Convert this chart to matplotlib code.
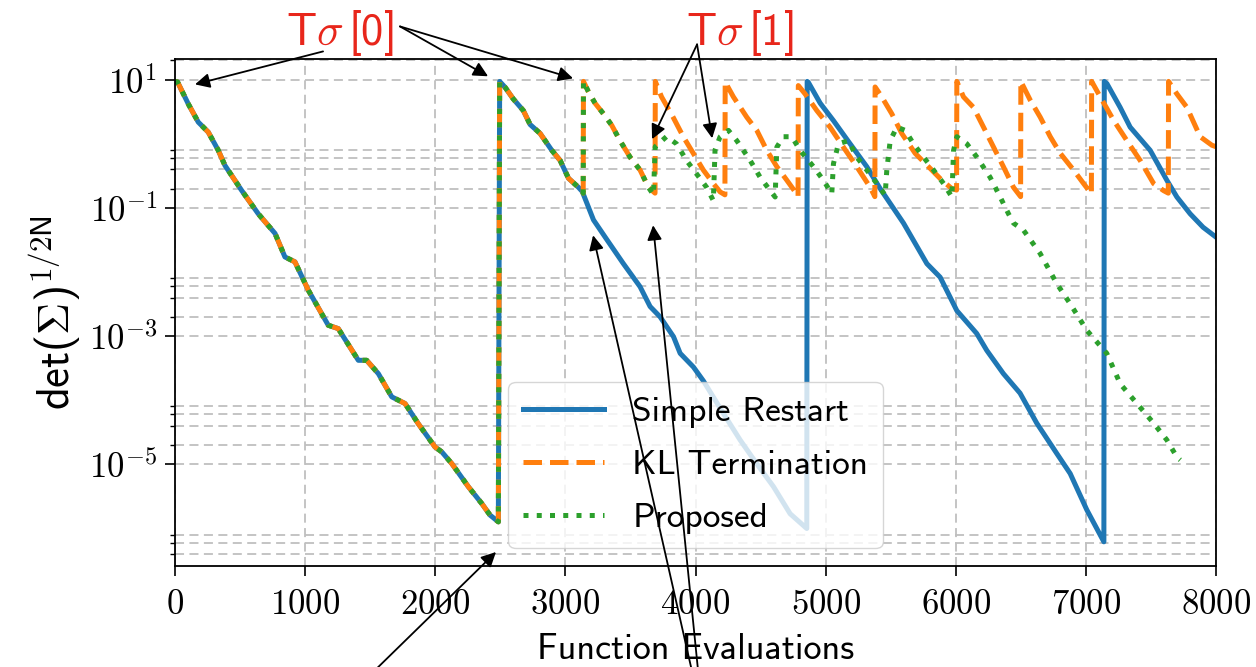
import matplotlib
matplotlib.use('Agg')
import matplotlib.pyplot as plt
from matplotlib.ticker import FixedLocator, FixedFormatter, NullFormatter

plt.rcParams['mathtext.fontset'] = 'cm'

# first run, identical for all three strategies
run0_x = [0, 20, 102, 179, 256, 333, 384, 512, 640, 769, 845, 922, 1025, 1178, 1255,
          1409, 1473, 1563, 1666, 1768, 1870, 1998, 2050, 2127, 2254, 2357, 2421, 2485]
run0_y = [9.4, 9.2, 4.2, 2.18, 1.52, 0.79, 0.46, 0.188, 0.081, 0.040, 0.0172, 0.0144,
          5.2e-3, 1.48e-3, 1.31e-3, 4.2e-4, 4.2e-4, 2.6e-4, 1.13e-4, 8.9e-5, 4.3e-5,
          1.87e-5, 1.57e-5, 1.03e-5, 4.5e-6, 2.46e-6, 1.62e-6, 1.27e-6]

# second run (after first restart), shared up to ~3130
run1_x = [2495, 2537, 2600, 2677, 2729, 2806, 2896, 2960, 3024, 3100, 3130]
run1_y = [9.4, 7.6, 5.0, 3.3, 2.0, 1.45, 0.79, 0.55, 0.29, 0.21, 0.18]

# simple restart: continues the second run, then restarts twice more
simple_tail_x = [3216, 3319, 3446, 3574, 3651, 3728, 3831, 3882, 3984, 4061, 4215, 4343,
                 4471, 4599, 4727, 4855,
                 4858, 4867, 4958, 5060, 5188, 5316, 5419, 5598, 5778, 5880, 6008, 6161,
                 6238, 6366, 6494, 6622, 6776, 6879, 7007, 7138,
                 7141, 7161, 7263, 7340, 7494, 7622, 7699, 7801, 7900, 8000]
simple_tail_y = [0.065, 0.032, 0.0135, 5.9e-3, 2.9e-3, 2.0e-3, 9.8e-4, 5.4e-4, 3.3e-4,
                 2.0e-4, 6.2e-5, 2.4e-5, 1.02e-5, 4.5e-6, 1.7e-6, 1.0e-6,
                 9.4, 9.1, 4.3, 2.3, 1.0, 0.44, 0.20, 0.058, 0.0135, 8.3e-3, 2.5e-3,
                 1.1e-3, 6.0e-4, 2.6e-4, 1.29e-4, 4.4e-5, 1.48e-5, 7.2e-6, 1.95e-6, 6.2e-7,
                 9.4, 8.7, 3.7, 1.82, 0.79, 0.27, 0.148, 0.081, 0.050, 0.035]

# restart at ~3140, shared by KL termination and proposed until ~3680
run2_x = [3137, 3139, 3177, 3228, 3292, 3356, 3420, 3497, 3574, 3638]
run2_y = [0.17, 9.4, 6.5, 4.3, 2.95, 1.95, 1.12, 0.62, 0.39, 0.21]

kl_tail_x = [3689, 3691, 3739, 3828, 3906, 3983, 4060, 4137, 4189, 4226,
             4228, 4291, 4394, 4471, 4548, 4625, 4702, 4766, 4788,
             4790, 4842, 4932, 5034, 5136, 5239, 5342, 5378,
             5380, 5431, 5508, 5585, 5688, 5790, 5893, 5970, 6006,
             6008, 6059, 6136, 6213, 6290, 6366, 6443, 6498,
             6500, 6572, 6649, 6726, 6803, 6905, 6982, 7042,
             7044, 7110, 7212, 7315, 7417, 7520, 7597, 7633,
             7635, 7699, 7776, 7878, 7968, 8000]
kl_tail_y = [0.17, 9.4, 5.4, 2.6, 1.29, 0.71, 0.39, 0.24, 0.178, 0.16,
             9.2, 5.4, 2.6, 1.62, 0.79, 0.44, 0.27, 0.178, 0.15,
             8.1, 6.0, 3.3, 1.82, 0.89, 0.44, 0.21, 0.15,
             7.7, 5.4, 2.95, 1.45, 0.71, 0.44, 0.27, 0.20, 0.19,
             9.4, 5.4, 3.7, 1.82, 0.89, 0.44, 0.21, 0.15,
             9.4, 4.8, 2.6, 1.29, 0.71, 0.39, 0.24, 0.166,
             9.4, 5.4, 2.34, 1.12, 0.55, 0.24, 0.186, 0.17,
             9.4, 6.0, 3.7, 1.29, 0.95, 0.90]

proposed_tail_x = [3677, 3690, 3778, 3854, 3931, 4008, 4085, 4137, 4150, 4189, 4253, 4317,
                   4420, 4497, 4574, 4612, 4625, 4676, 4740, 4804, 4906, 4983, 5047, 5060,
                   5098, 5175, 5239, 5316, 5393, 5457, 5470, 5496, 5547, 5611, 5675, 5752,
                   5829, 5906, 5970, 5983, 6008, 6085, 6162, 6264, 6341, 6405, 6443, 6520,
                   6648, 6776, 6879, 7007, 7160, 7264, 7392, 7520, 7622, 7699, 7725]
proposed_tail_y = [0.16, 0.9, 1.3, 1.0, 0.55, 0.34, 0.21, 0.13, 0.8, 1.29, 1.62, 1.12,
                   0.55, 0.30, 0.186, 0.148, 0.89, 1.29, 1.29, 0.79, 0.44, 0.27, 0.166, 0.49,
                   1.0, 1.12, 0.62, 0.39, 0.24, 0.158, 0.39, 1.12, 1.82, 1.62, 1.0, 0.62,
                   0.39, 0.24, 0.148, 0.79, 1.29, 1.0, 0.62, 0.30, 0.148, 0.081, 0.058, 0.045,
                   0.0195, 6.6e-3, 3.2e-3, 1.23e-3, 5.4e-4, 1.8e-4, 8.9e-5, 4.4e-5, 2.4e-5,
                   1.3e-5, 1.17e-5]

simple_x = run0_x + run1_x + simple_tail_x
simple_y = run0_y + run1_y + simple_tail_y
kl_x = run0_x + run1_x + run2_x + kl_tail_x
kl_y = run0_y + run1_y + run2_y + kl_tail_y
proposed_x = run0_x + run1_x + run2_x + proposed_tail_x
proposed_y = run0_y + run1_y + run2_y + proposed_tail_y

x_ticks = [0, 1000, 2000, 3000, 4000, 5000, 6000, 7000, 8000]
x_tick_labels = ['$0$', '$1000$', '$2000$', '$3000$', '$4000$', '$5000$', '$6000$', '$7000$', '$8000$']
y_ticks = [1e-5, 1e-3, 1e-1, 1e1]
y_tick_labels = [r'$10^{-5}$', r'$10^{-3}$', r'$10^{-1}$', r'$10^{1}$']

fig = plt.figure(figsize=(12.56, 6.67), dpi=100)
ax = fig.add_axes([0.1393, 0.1514, 0.8289, 0.7601])

ax.plot(simple_x, simple_y, color='#1f77b4', lw=3.6, label='Simple Restart')
ax.plot(kl_x, kl_y, color='#ff7f0e', lw=3.6, ls='--', label='KL Termination')
ax.plot(proposed_x, proposed_y, color='#2ca02c', lw=3.6, ls=':', label='Proposed')

ax.set_yscale('log')
ax.set_xlim(0, 8000)
ax.set_ylim(2.6e-7, 21)

ax.xaxis.set_major_locator(FixedLocator(x_ticks))
ax.xaxis.set_major_formatter(FixedFormatter(x_tick_labels))
ax.yaxis.set_major_locator(FixedLocator(y_ticks))
ax.yaxis.set_major_formatter(FixedFormatter(y_tick_labels))
minor = [m * 10.0 ** e for e in (-7, -5, -3, -1, 1) for m in (2, 4, 6, 8)]
ax.yaxis.set_minor_locator(FixedLocator(minor))
ax.yaxis.set_minor_formatter(NullFormatter())

ax.tick_params(which='major', labelsize=25, length=7, width=1.2, pad=6)
ax.tick_params(axis='x', which='major', pad=8)
ax.tick_params(which='minor', length=3.5, width=1.0)
for sp in ax.spines.values():
    sp.set_linewidth(1.3)

ax.grid(True, which='both', color='#bfbfbf', lw=1.3, ls=(0, (5, 3)))

ax.set_xlabel('Function Evaluations', family='cmss10', fontsize=26, labelpad=9)
ax.set_ylabel(r'det($\Sigma$)$^{\mathsf{1/2N}}$', family='cmss10', fontsize=32, labelpad=4)

ax.legend(loc='lower center', prop={'family': 'cmss10', 'size': 25.5},
          handlelength=2.3, labelspacing=0.6)

red = '#e8261b'
ax.text(1268, 54, r'T$\sigma\,$[0]', family='cmss10', color=red, fontsize=32,
        ha='center', va='center')
ax.text(4343, 54, r'T$\sigma\,$[1]', family='cmss10', color=red, fontsize=32,
        ha='center', va='center')

arrow_kw = dict(arrowstyle='-|>', color='black', lw=1.3, mutation_scale=22,
                shrinkA=0, shrinkB=0)
arrows = [
    ((1138, 27.6), (154, 8.45)),
    ((1729, 67.7), (2406, 11.3)),
    ((1729, 67.7), (3059, 10.5)),
    ((4012, 35.5), (3666, 1.18)),
    ((4012, 35.5), (4128, 1.22)),
    ((1145, 1.03e-9), (2467, 4.3e-7)),
    ((4058, 1.03e-9), (3213, 0.0374)),
    ((4058, 1.03e-9), (3674, 0.0536)),
]
for start, end in arrows:
    ax.annotate('', xy=end, xytext=start, arrowprops=arrow_kw,
                annotation_clip=False, zorder=10)

fig.savefig('out.png', dpi=100)
